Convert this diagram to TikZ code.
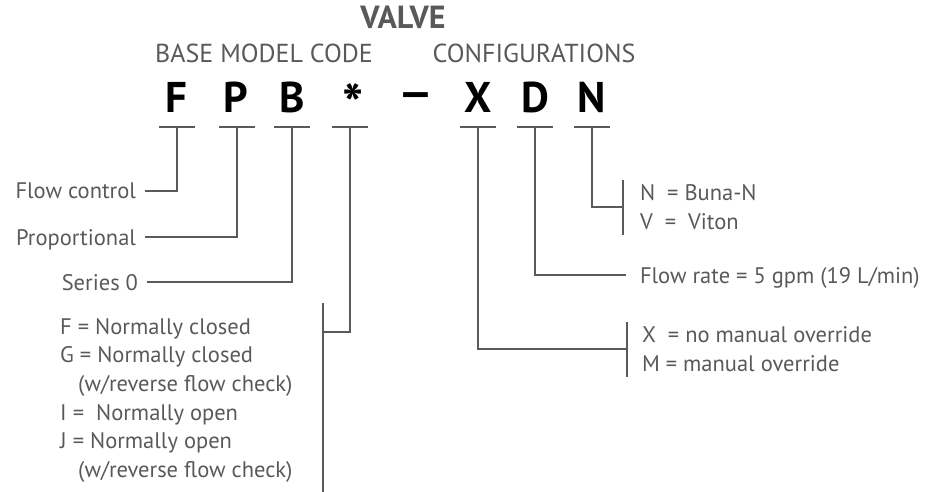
\documentclass[tikz,border=0pt]{standalone}
\usepackage{fontspec}
\setmainfont{PT Sans}
\usetikzlibrary{calc}
\definecolor{txtgray}{HTML}{58595B}
\definecolor{rulegray}{HTML}{5A5A5A}

\begin{document}
\begin{tikzpicture}[x=1pt,y=-1pt,
  rule/.style={line width=2pt, color=rulegray},
  code/.style={font=\fontsize{43}{43}\selectfont\bfseries, inner sep=0pt, anchor=base},
  head/.style={font=\fontsize{26}{26}\selectfont, text=txtgray, inner sep=0pt, anchor=base},
  lbl/.style={font=\fontsize{22.5}{29}\selectfont, text=txtgray, inner sep=0pt, text height=16pt, text depth=0pt},
  lst/.style={font=\fontsize{22.5}{28.7}\selectfont, text=txtgray, align=left, inner xsep=0pt, inner ysep=5pt, outer ysep=0pt}]
			%%%%% START %%%%%
			\useasboundingbox (0,0) rectangle (927,492);
			
			\node[head, font=\fontsize{32}{32}\selectfont\bfseries] (valve) at (403,29) {VALVE};
			\node[head] (base) at (264,63) {BASE MODEL CODE};
			\node[head] (conf) at (534,63) {CONFIGURATIONS};
			
			\foreach \n/\x/\t in {F/176/F,P/236/P,B/292/B,X/478/X,D/535/D,N/592/N}
				\node[code] (\n) at (\x,113) {\t};
			\node[code, anchor=north, font=\fontsize{56}{56}\selectfont\bfseries] (S) at (353,83) {*};
			\node[code] (dash) at (416,108) {\scalebox{1.3}[1]{–}};
			
			\foreach \n/\x in {F/177,P/237,B/292,S/350,X/478,D/535,N/592}{
				\coordinate (u\n) at (\x,127);
				\draw[rule] (\x-18,127) -- (\x+18,127);
			}
			
			\node[lbl, outer xsep=9pt, anchor=east] (flow) at (145,191) {Flow control};
			\node[lbl, outer xsep=9pt, anchor=east] (prop) at (145,237) {Proportional};
			\node[lbl, outer xsep=9pt, anchor=east] (series) at (147,282) {Series 0};
			\draw[rule] (uF) |- (flow.east);
			\draw[rule] (uP) |- (prop.east);
			\draw[rule] (uB) |- (series.east);
			
			\node[lst, anchor=north west] (slist) at (60,313) {F = Normally closed\\G = Normally closed\\\hspace*{18pt}(w/reverse flow check)\\I =\ \ Normally open\\J = Normally open\\\hspace*{18pt}(w/reverse flow check)};
			\coordinate (stop) at (323,303);
			\coordinate (sjoin) at (323,332);
			\coordinate (sbot) at (323,492);
			\draw[rule] (stop) -- (sbot);
			\draw[rule] (uS) |- (sjoin);
			
			\node[lst, outer xsep=17pt, anchor=north west] (nlist) at (623,180) {N~~= Buna-N\\V~~=~~Viton};
			\draw[rule] (nlist.north west) -- (nlist.south west);
			\draw[rule] (uN) |- (nlist.west);
			
			\node[lbl, outer xsep=14pt, anchor=west] (rate) at (626,275) {Flow rate = 5 gpm (19 L/min)};
			\draw[rule] (uD) |- (rate.west);
			
			\node[lst, outer xsep=15pt, anchor=north west] (xlist) at (627,322) {X~~= no manual override\\M = manual override};
			\draw[rule] (xlist.north west) -- (xlist.south west);
			\draw[rule] (uX) |- (xlist.west);
			%%%%% END %%%%%
\end{tikzpicture}
\end{document}
